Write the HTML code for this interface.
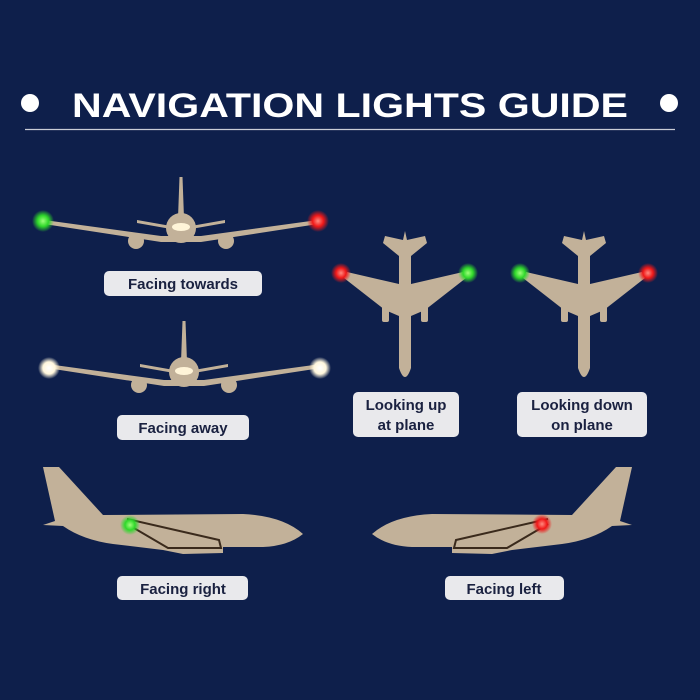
<!DOCTYPE html>
<html><head><meta charset="utf-8"><style>
html,body{margin:0;padding:0;background:#0e1f4b;}
svg{display:block}
text{font-family:"Liberation Sans",sans-serif;font-weight:bold}
</style></head><body>
<svg width="700" height="700" viewBox="0 0 700 700" xmlns="http://www.w3.org/2000/svg">
<defs>
<radialGradient id="g"><stop offset="0" stop-color="#9dff7a"/><stop offset="0.5" stop-color="#2fd82a"/><stop offset="1" stop-color="#2fd82a" stop-opacity="0"/></radialGradient>
<radialGradient id="r"><stop offset="0" stop-color="#ff8a80"/><stop offset="0.5" stop-color="#f01818"/><stop offset="1" stop-color="#f01818" stop-opacity="0"/></radialGradient>
<radialGradient id="w"><stop offset="0" stop-color="#ffffff"/><stop offset="0.55" stop-color="#fff6dc"/><stop offset="1" stop-color="#fff6dc" stop-opacity="0"/></radialGradient>
<g id="front">
  <path d="M-137,-8 L-20,8 L20,8 L137,-8 L137,-4 L20,14 L-20,14 L-137,-4Z" fill="#c2b199"/>
  <path d="M-1.5,-51 L1.5,-51 L3,-10 L-3,-10Z" fill="#c2b199"/>
  <path d="M-44,-8 L-10,-2 L-10,1 L-44,-5Z M44,-8 L10,-2 L10,1 L44,-5Z" fill="#c2b199"/>
  <circle cx="0" cy="0" r="15" fill="#c2b199"/>
  <ellipse cx="0" cy="-1" rx="9" ry="4" fill="#fff4d8"/>
  <circle cx="-45" cy="13" r="8" fill="#c2b199"/><circle cx="45" cy="13" r="8" fill="#c2b199"/>
</g>
<g id="top" fill="#c2b199">
  <path d="M0,-71 L2,-62 L20,-66 L22,-59 L6,-46 L6,-18 L58,-30 L61,-24 L20,8 L6,14 L6,66 Q0,84 -6,66 L-6,14 L-20,8 L-61,-24 L-58,-30 L-6,-18 L-6,-46 L-22,-59 L-20,-66 L-2,-62Z"/>
  <rect x="-23" y="3" width="7" height="17" rx="2"/>
  <rect x="16" y="3" width="7" height="17" rx="2"/>
</g>
<g id="side">
  <path d="M0,-49 L16,-49 L60,-1 L200,-2 Q240,0 260,18 Q245,30 220,31 L180,31 L180,37 L140,38 L120,34 L70,28 Q40,24 20,10 L0,9 L12,5Z" fill="#c2b199"/>
  <path d="M84,3 L176,24 L178,32 L125,32 L84,8" fill="none" stroke="#3a2a1c" stroke-width="2"/>
</g>
</defs>

<circle cx="30" cy="103" r="9" fill="#fff"/>
<circle cx="669" cy="103" r="9" fill="#fff"/>
<text x="350" y="117" text-anchor="middle" font-size="34" fill="#fff" textLength="556" lengthAdjust="spacingAndGlyphs">NAVIGATION LIGHTS GUIDE</text>
<line x1="25" y1="129.5" x2="675" y2="129.5" stroke="#c9ccd6" stroke-width="1.3"/>

<use href="#front" x="181" y="228"/>
<circle cx="43" cy="221" r="11" fill="url(#g)"/>
<circle cx="318" cy="221" r="11" fill="url(#r)"/>

<use href="#front" x="184" y="372"/>
<circle cx="49" cy="368" r="11" fill="url(#w)"/>
<circle cx="320" cy="368" r="11" fill="url(#w)"/>

<use href="#top" x="405" y="302"/>
<circle cx="341" cy="273" r="10" fill="url(#r)"/>
<circle cx="468" cy="273" r="10" fill="url(#g)"/>
<use href="#top" x="584" y="302"/>
<circle cx="520" cy="273" r="10" fill="url(#g)"/>
<circle cx="648" cy="273" r="10" fill="url(#r)"/>

<use href="#side" x="43" y="516"/>
<circle cx="130" cy="525" r="10" fill="url(#g)"/>
<g transform="translate(632,516) scale(-1,1)"><use href="#side"/></g>
<circle cx="542" cy="524" r="10" fill="url(#r)"/>

<g fill="#e9e9ec">
<rect x="104" y="271" width="158" height="25" rx="5"/>
<rect x="117" y="415" width="132" height="25" rx="5"/>
<rect x="353" y="392" width="106" height="45" rx="5"/>
<rect x="517" y="392" width="130" height="45" rx="5"/>
<rect x="117" y="576" width="131" height="24" rx="5"/>
<rect x="445" y="576" width="119" height="24" rx="5"/>
</g>
<g font-size="15" fill="#1a2140" text-anchor="middle">
<text x="183" y="289">Facing towards</text>
<text x="183" y="433">Facing away</text>
<text x="406" y="410">Looking up</text>
<text x="406" y="430">at plane</text>
<text x="582" y="410">Looking down</text>
<text x="582" y="430">on plane</text>
<text x="183" y="594">Facing right</text>
<text x="504" y="594">Facing left</text>
</g>
</svg>
</body></html>
